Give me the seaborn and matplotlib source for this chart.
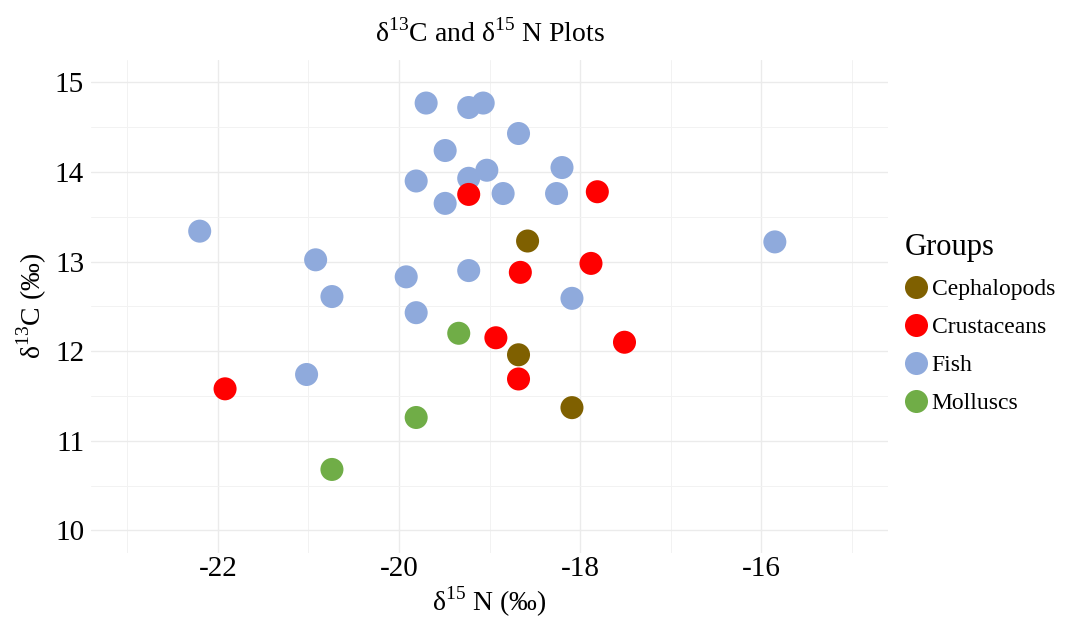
import matplotlib
matplotlib.use("Agg")
import matplotlib.pyplot as plt
import seaborn as sns
import pandas as pd

# values
fish_n = [-22.20, -20.92, -20.74, -21.02, -19.92, -19.81, -19.81, -19.70, -19.49, -19.49,
          -19.23, -19.07, -19.23, -19.03, -19.23, -18.85, -18.68, -18.26, -18.20, -18.09, -15.85]
fish_c = [13.34, 13.02, 12.61, 11.74, 12.83, 12.43, 13.90, 14.77, 14.24, 13.65,
          14.72, 14.77, 13.93, 14.02, 12.90, 13.76, 14.43, 13.76, 14.05, 12.59, 13.22]
crust_n = [-21.92, -19.23, -18.93, -18.66, -18.68, -17.88, -17.81, -17.51]
crust_c = [11.58, 13.75, 12.15, 12.88, 11.69, 12.98, 13.78, 12.10]
ceph_n = [-18.58, -18.68, -18.09]
ceph_c = [13.23, 11.96, 11.37]
moll_n = [-19.34, -19.81, -20.74]
moll_c = [12.20, 11.26, 10.68]

groups = ["Cephalopods", "Crustaceans", "Fish", "Molluscs"]
colors = ["#7F6000", "#FF0000", "#8FAADC", "#70AD47"]
x_ticks = [-22, -20, -18, -16]
y_ticks = [10, 11, 12, 13, 14, 15]

df = pd.concat([
    pd.DataFrame({"N": ceph_n, "C": ceph_c, "Groups": "Cephalopods"}),
    pd.DataFrame({"N": crust_n, "C": crust_c, "Groups": "Crustaceans"}),
    pd.DataFrame({"N": fish_n, "C": fish_c, "Groups": "Fish"}),
    pd.DataFrame({"N": moll_n, "C": moll_c, "Groups": "Molluscs"}),
], ignore_index=True)
# draw fish first so the other groups sit on top
df["order"] = df["Groups"].map({"Fish": 0, "Cephalopods": 1, "Crustaceans": 2, "Molluscs": 3})
df = df.sort_values("order")

sns.set_style("white")
plt.rcParams["font.family"] = ["Liberation Serif", "DejaVu Serif"]
plt.rcParams["mathtext.fontset"] = "custom"
plt.rcParams["mathtext.rm"] = "Liberation Serif"
plt.rcParams["text.color"] = "black"
plt.rcParams["axes.labelcolor"] = "black"
plt.rcParams["xtick.color"] = "black"
plt.rcParams["ytick.color"] = "black"

fig = plt.figure(figsize=(10.67, 6.19), dpi=100)
ax = fig.add_axes([0.0853, 0.107, 0.747, 0.796])

sns.scatterplot(data=df, x="N", y="C", hue="Groups", hue_order=groups,
                palette=dict(zip(groups, colors)), s=275, linewidth=0, ax=ax, zorder=3)

ax.set_xlim(-23.4, -14.6)
ax.set_ylim(9.75, 15.25)
ax.set_xticks(x_ticks)
ax.set_yticks(y_ticks)
ax.set_xticks([-23, -21, -19, -17, -15], minor=True)
ax.set_yticks([10.5, 11.5, 12.5, 13.5, 14.5], minor=True)
ax.set_xticklabels([str(t) for t in x_ticks])
ax.grid(True, which="major", color="#EBEBEB", linewidth=1.0)
ax.grid(True, which="minor", color="#F2F2F2", linewidth=0.7)
ax.tick_params(which="both", length=0, labelsize=21)
ax.tick_params(axis="x", pad=2)
ax.tick_params(axis="y", pad=5)
for sp in ax.spines.values():
    sp.set_visible(False)

ax.set_xlabel("δ$^{15}$ N (‰)", fontsize=20, labelpad=2)
ax.set_ylabel("δ$^{13}$C (‰)", fontsize=20, labelpad=4)
ax.set_title("δ$^{13}$C and δ$^{15}$ N Plots", fontsize=20, pad=13)

leg = ax.legend(title="Groups", loc="center left", bbox_to_anchor=(1.0, 0.465),
                frameon=False, fontsize=17, title_fontsize=22,
                handlelength=1.0, handletextpad=0.15, labelspacing=0.7,
                borderaxespad=0.3)
leg._legend_box.align = "left"

fig.savefig("out.png", dpi=100)
